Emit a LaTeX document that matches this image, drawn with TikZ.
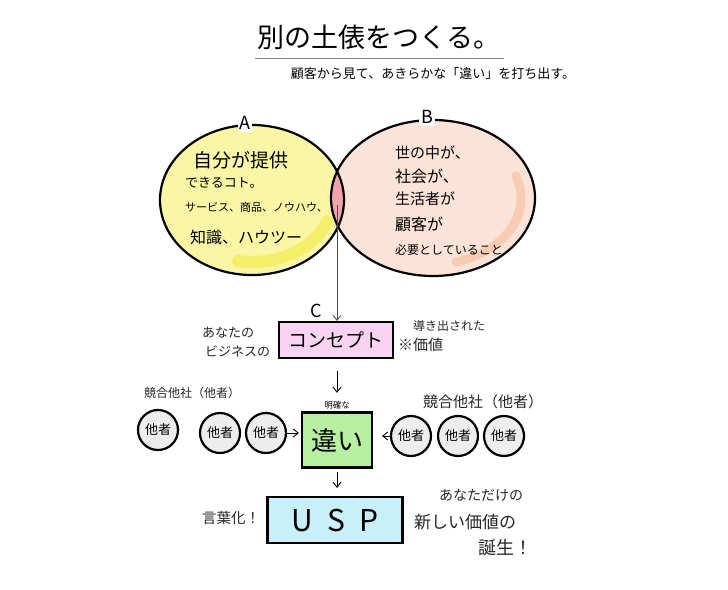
\documentclass[tikz,border=0pt]{standalone}
\usepackage{fontspec}
\newfontfamily\jp{Noto Sans CJK JP}
\usetikzlibrary{arrows.meta}
\newcommand\fsz[1]{\fontsize{#1}{#1}\selectfont}
\definecolor{yfill}{HTML}{FAF6A6}
\definecolor{ypatch}{HTML}{F5EE68}
\definecolor{pfill}{HTML}{FCE3D8}
\definecolor{ppatch}{HTML}{F8CBB4}
\definecolor{lensc}{HTML}{F2A3AE}
\definecolor{conc}{HTML}{F9D4F2}
\definecolor{diffc}{HTML}{B6F0A0}
\definecolor{uspc}{HTML}{C8F0FB}
\definecolor{tashac}{HTML}{EDEDED}
\begin{document}
\begin{tikzpicture}[x=1pt,y=-1pt,font=\jp,
  outl/.style={draw=black,line width=2.2pt},
  arr/.style={-{Straight Barb[length=5pt,width=8pt]},line width=0.9pt},
  txt/.style={inner sep=0pt,anchor=west},
  tasha/.style={circle,outl,fill=tashac,minimum size=40pt,inner sep=0pt,font=\jp\fsz{13}},
  lbl/.style={font=\jp\fsz{18},inner sep=2pt,fill=white},
  note/.style={inner sep=0pt,text=black!85}
]
\useasboundingbox (0,0) rectangle (728,589);

% title
\node[inner sep=0pt,font=\jp\fsz{27}] (title) at (379,37) {別の土俵をつくる。};
\draw[gray,line width=0.8pt] (255,58) -- (504,58);
\node[inner sep=0pt,font=\jp\fsz{13}] (sub) at (433,74) {顧客から見て、あきらかな「違い」を打ち出す。};

% circles fill
\fill[yfill] (252,200) ellipse [x radius=92, y radius=75];
\fill[pfill] (433,198) ellipse [x radius=102, y radius=78];
\begin{scope}
  \clip (252,200) ellipse [x radius=92, y radius=75];
  \draw[ypatch,line width=12pt,line cap=round] (327.2,221.2) arc[start angle=20,end angle=100,x radius=80,y radius=62];
  \fill[lensc] (433,198) ellipse [x radius=102, y radius=78];
\end{scope}
\begin{scope}
  \clip (433,198) ellipse [x radius=102, y radius=78];
  \draw[ppatch,line width=9pt,line cap=round] (515.7,175.5) arc[start angle=-20,end angle=75,x radius=88,y radius=66];
\end{scope}
\draw[outl] (252,200) ellipse [x radius=92, y radius=75];
\draw[outl] (433,198) ellipse [x radius=102, y radius=78];
\node[lbl] (la) at (245,123) {A};
\node[lbl] (lb) at (427,117) {B};

% A text
\node[txt,font=\jp\fsz{19}] (a1) at (193,160) {自分が提供};
\node[txt,font=\jp\fsz{13}] (a2) at (185,183) {できるコト。};
\node[txt,font=\jp\fsz{11}] (a3) at (185,207) {サービス、商品、ノウハウ、};
\node[txt,font=\jp\fsz{16}] (a4) at (190,237) {知識、ハウツー};

% B text
\node[txt,font=\jp\fsz{15}] (b1) at (395,153) {世の中が、};
\node[txt,font=\jp\fsz{16}] (b2) at (395,176) {社会が、};
\node[txt,font=\jp\fsz{15}] (b3) at (395,199) {生活者が};
\node[txt,font=\jp\fsz{16}] (b4) at (395,224) {顧客が};
\node[txt,font=\jp\fsz{12}] (b5) at (395,250) {必要としていること};

% concept
\coordinate (lens) at (337,205);
\node[outl,fill=conc,minimum width=114pt,minimum height=36pt,font=\jp\fsz{19}] (concept) at (336,340) {コンセプト};
\node[inner sep=0pt,font=\jp\fsz{18}] (lc) at (316,311) {C};
\draw[-{Straight Barb[length=5pt,width=8pt]},line width=0.8pt,black!70] (lens) -- (lens |- concept.north);
\node[note,anchor=west,font=\jp\fsz{13}] (n1) at (202,333) {あなたの};
\node[note,anchor=west,font=\jp\fsz{13}] (n2) at (205,351) {ビジネスの};
\node[note,anchor=west,font=\jp\fsz{12}] (n3) at (413,326) {導き出された};
\node[note,anchor=west,font=\jp\fsz{15}] (n4) at (398,345) {※価値};

% difference
\node[outl,fill=diffc,minimum width=70pt,minimum height=55pt,font=\jp\fsz{26}] (diff) at (337,440) {違い};
\node[inner sep=0pt,font=\jp\fsz{8.5}] (mk) at (337,405) {明確な};
\draw[arr,shorten <=12pt,shorten >=8pt] (concept.south -| diff.north) -- (mk.north);

\node[note,font=\jp\fsz{12}] (kl) at (192,393) {競合他社（他者）};
\node[note,font=\jp\fsz{15}] (kr) at (483,402) {競合他社（他者）};

\node[tasha] (l1) at (158,430) {他者};
\node[tasha] (l2) at (220,433) {他者};
\node[tasha] (l3) at (266,433) {他者};
\node[tasha] (r1) at (411,436) {他者};
\node[tasha] (r2) at (458,436) {他者};
\node[tasha] (r3) at (504,436) {他者};
\draw[arr,shorten >=2pt] (l3.east) -- (l3.east -| diff.west);
\draw[arr,shorten >=9pt] (r1.west) -- (r1.west -| diff.east);

% USP
\node[outl,fill=uspc,minimum width=135pt,minimum height=46pt,font=\jp\fsz{30}] (usp) at (335,520) {U\hspace{14pt}S\hspace{14pt}P};
\draw[arr,shorten <=3pt,shorten >=8pt] (diff.south) -- (diff.south |- usp.north);
\node[note,font=\jp\fsz{14.5}] (u1) at (231,518) {言葉化！};
\node[note,font=\jp\fsz{14}] (u2) at (481,495) {あなただけの};
\node[note,font=\jp\fsz{17}] (u3) at (465,522) {新しい価値の};
\node[note,font=\jp\fsz{18}] (u4) at (505,548) {誕生！};
\end{tikzpicture}
\end{document}
